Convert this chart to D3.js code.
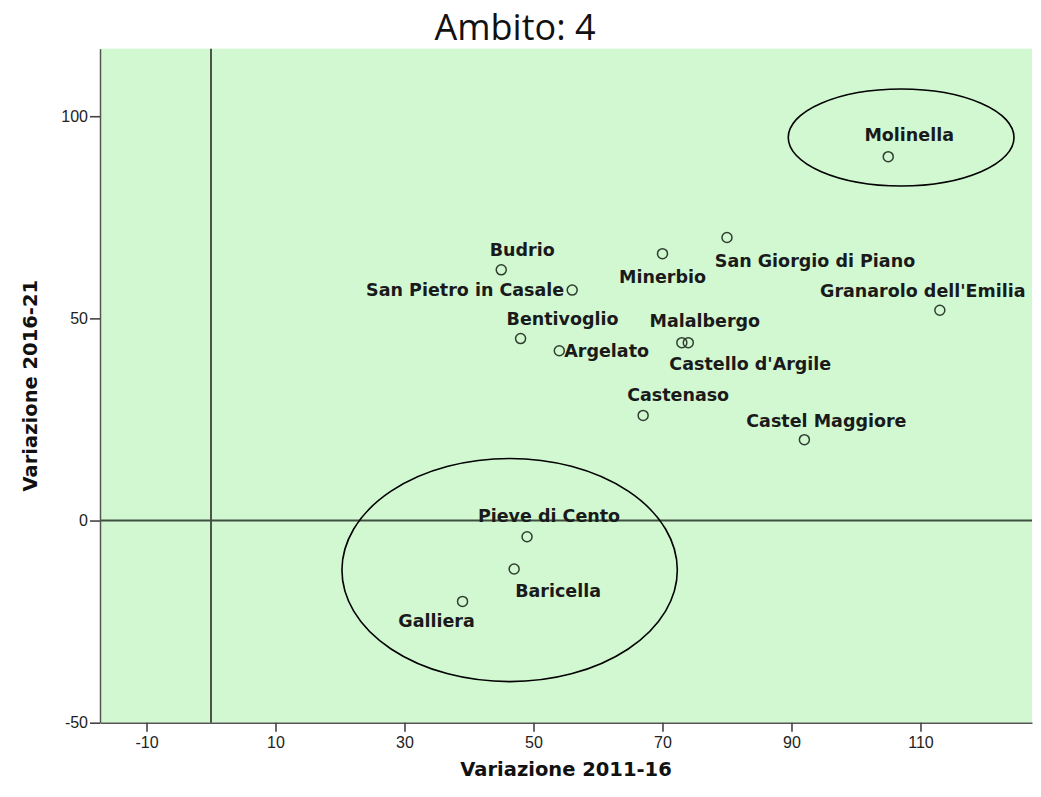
<!DOCTYPE html>
<html>
<head>
<meta charset="utf-8">
<script src="https://cdn.jsdelivr.net/npm/d3@7/dist/d3.min.js"></script>
<style>
  html, body { margin: 0; padding: 0; background: #ffffff; }
  svg { display: block; }
</style>
</head>
<body>
<svg id="chart" width="1041" height="797"></svg>
<script>
// ---- data ----
const names = ["Molinella", "San Giorgio di Piano", "Minerbio", "Budrio", "San Pietro in Casale",
  "Granarolo dell'Emilia", "Bentivoglio", "Malalbergo", "Argelato", "Castello d'Argile",
  "Castenaso", "Castel Maggiore", "Pieve di Cento", "Baricella", "Galliera"];
const var2011_16 = [105, 80, 70, 45, 56, 113, 48, 73, 54, 74, 67, 92, 49, 47, 39];
const var2016_21 = [90, 70, 66, 62, 57, 52, 45, 44, 42, 44, 26, 20, -4, -12, -20];
const xTicks = [-10, 10, 30, 50, 70, 90, 110];
const yTicks = [-50, 0, 50, 100];
// highlight ellipses: [centre x, centre y, radius x, radius y] in data units
const ellipseCx = [107.0, 46.3];
const ellipseCy = [94.75, -12.25];
const ellipseRx = [17.5, 26.0];
const ellipseRy = [12.0, 27.6];
const titleText = "Ambito: 4";
const xTitle = "Variazione 2011-16";
const yTitle = "Variazione 2016-21";

// ---- label placement (pixels relative to point): [dx, dy, anchor] ----
const labelPos = {
  "Molinella": [21, -22, "middle"],
  "San Giorgio di Piano": [88, 23, "middle"],
  "Minerbio": [0, 23, "middle"],
  "Budrio": [21, -20, "middle"],
  "San Pietro in Casale": [-8, 0, "end"],
  "Granarolo dell'Emilia": [-17, -19, "middle"],
  "Bentivoglio": [42, -20, "middle"],
  "Malalbergo": [23, -22, "middle"],
  "Argelato": [5, 0, "start"],
  "Castello d'Argile": [62, 21, "middle"],
  "Castenaso": [35, -20, "middle"],
  "Castel Maggiore": [22, -19, "middle"],
  "Pieve di Cento": [22, -21, "middle"],
  "Baricella": [44, 22, "middle"],
  "Galliera": [-26, 20, "middle"]
};

// ---- layout ----
const L = 100, R = 1032, T = 48.7, B = 722.7;
const svg = d3.select("#chart");
const x = d3.scaleLinear().domain([-17.21, 127.29]).range([L, R]);
const y = d3.scaleLinear().domain([-50, 116.7]).range([B, T]);

// background
svg.append("rect").attr("x", L).attr("y", T).attr("width", R - L).attr("height", B - T)
  .attr("fill", "#d2f8d2");

// reference lines
svg.append("line").attr("x1", x(0)).attr("x2", x(0)).attr("y1", T).attr("y2", B)
  .attr("stroke", "#111").attr("stroke-width", 1.4);
svg.append("line").attr("x1", L).attr("x2", R).attr("y1", y(0)).attr("y2", y(0))
  .attr("stroke", "#3f4f3f").attr("stroke-width", 2);

// axes
const fmt = d => String(d);
const xAxis = svg.append("g").attr("transform", `translate(0,${B})`)
  .call(d3.axisBottom(x).tickValues(xTicks).tickFormat(fmt).tickSize(9).tickPadding(5).tickSizeOuter(0));
const yAxis = svg.append("g").attr("transform", `translate(${L},0)`)
  .call(d3.axisLeft(y).tickValues(yTicks).tickFormat(fmt).tickSize(10).tickPadding(2).tickSizeOuter(0));
[xAxis, yAxis].forEach(g => {
  g.select(".domain").attr("stroke", "#555").attr("stroke-width", 1.5);
  g.selectAll(".tick line").attr("stroke", "#444").attr("stroke-width", 1.6);
  g.selectAll(".tick text").attr("fill", "#222")
    .style("font-family", "'Liberation Sans', Arial, sans-serif").style("font-size", "16px");
});

// ellipses
svg.append("g").selectAll("ellipse").data(ellipseCx).join("ellipse")
  .attr("cx", (d, i) => x(d))
  .attr("cy", (d, i) => y(ellipseCy[i]))
  .attr("rx", (d, i) => x(d + ellipseRx[i]) - x(d))
  .attr("ry", (d, i) => y(ellipseCy[i]) - y(ellipseCy[i] + ellipseRy[i]))
  .attr("fill", "none").attr("stroke", "#000").attr("stroke-width", 1.6);

// points
const pts = names.map((n, i) => ({ name: n, vx: var2011_16[i], vy: var2016_21[i] }));
svg.append("g").selectAll("circle").data(pts).join("circle")
  .attr("cx", d => x(d.vx)).attr("cy", d => y(d.vy)).attr("r", 5)
  .attr("fill", "none").attr("stroke", "#2f3f2f").attr("stroke-width", 1.5);

// labels
svg.append("g").selectAll("text").data(pts).join("text")
  .attr("x", d => x(d.vx) + labelPos[d.name][0])
  .attr("y", d => y(d.vy) + labelPos[d.name][1])
  .attr("text-anchor", d => labelPos[d.name][2])
  .attr("dominant-baseline", "central")
  .attr("fill", "#1a1a1a")
  .style("font-family", "'DejaVu Sans', Verdana, sans-serif")
  .style("font-weight", "bold").style("font-size", "17.5px")
  .text(d => d.name);

// titles
svg.append("text").attr("x", 515).attr("y", 26).attr("text-anchor", "middle")
  .attr("dominant-baseline", "central")
  .style("font-family", "'Open Sans', 'DejaVu Sans', sans-serif").style("font-size", "36px")
  .attr("fill", "#111").text(titleText);
svg.append("text").attr("x", (L + R) / 2).attr("y", 769).attr("text-anchor", "middle")
  .attr("dominant-baseline", "central")
  .style("font-family", "'DejaVu Sans', Verdana, sans-serif").style("font-weight", "bold")
  .style("font-size", "19.5px").attr("fill", "#111").text(xTitle);
svg.append("text").attr("transform", `translate(30,${(T + B) / 2}) rotate(-90)`)
  .attr("text-anchor", "middle").attr("dominant-baseline", "central")
  .style("font-family", "'DejaVu Sans', Verdana, sans-serif").style("font-weight", "bold")
  .style("font-size", "19.5px").attr("fill", "#111").text(yTitle);
</script>
</body>
</html>
